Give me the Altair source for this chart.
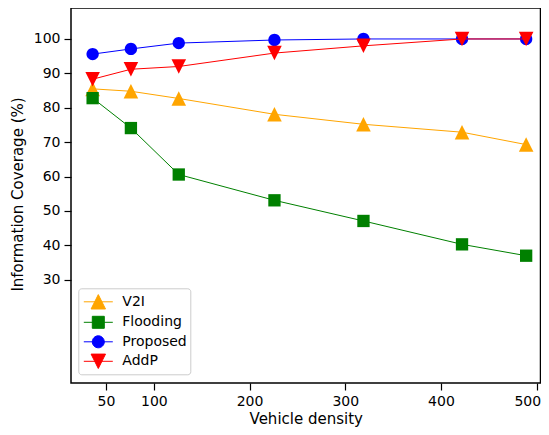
import altair as alt
import pandas as pd

# ---- data ----
density = [36, 76, 126, 226, 319, 422, 489]
v2i = [85.5, 84.8, 82.7, 78.1, 75.2, 72.9, 69.3]
flooding = [82.8, 74.1, 60.6, 53.1, 47.1, 40.3, 37.0]
proposed = [95.6, 97.1, 98.8, 99.7, 100.0, 100.0, 100.0]
addp = [88.3, 91.2, 92.0, 95.9, 98.0, 100.0, 100.0]

series_names = ["V2I", "Flooding", "Proposed", "AddP"]
series_values = [v2i, flooding, proposed, addp]
series_colors = ["#FFA500", "#008000", "#0000FF", "#FF0000"]
x_ticks = [50, 100, 200, 300, 400, 500]
y_ticks = [30, 40, 50, 60, 70, 80, 90, 100]

rows = []
for name, vals in zip(series_names, series_values):
    for xv, yv in zip(density, vals):
        rows.append({"density": xv, "coverage": yv, "series": name})
df = pd.DataFrame(rows)

FONT = "DejaVu Sans"


def circle(r, dx=0.0):
    return (f"M{dx - r},0A{r},{r} 0 1,0 {dx + r},0A{r},{r} 0 1,0 {dx - r},0Z")


def square(h, dx=0.0):
    return f"M{dx - h},{-h}L{dx + h},{-h}L{dx + h},{h}L{dx - h},{h}Z"


def tri_up(h, dx=0.0):
    return f"M{dx},{-h}L{dx + h},{h}L{dx - h},{h}Z"


def tri_down(h, dx=0.0):
    return f"M{dx},{h}L{dx + h},{-h}L{dx - h},{-h}Z"


# data markers: size 196 -> 1 path unit = 7 px
marker_paths = [tri_up(1.04), square(0.88), circle(0.88), tri_down(1.04)]

# legend symbols: size 400 -> 1 path unit = 10 px, line + marker
LDX = 0.65
line = f"M{-0.8},0L{2.1},0"
legend_paths = [
    line + tri_up(0.72, LDX),
    line + square(0.6, LDX),
    line + circle(0.6, LDX),
    line + tri_down(0.72, LDX),
]

xscale = alt.Scale(domain=[13.4, 504.0], nice=False, zero=False)
yscale = alt.Scale(domain=[0, 109], nice=False, zero=False)

xaxis = alt.Axis(values=x_ticks, title="Vehicle density", titleFontSize=15,
                 titleY=40, titleBaseline="alphabetic", labelPadding=4,
                 labelFlush=5, labelFlushOffset=4)
yaxis = alt.Axis(values=y_ticks, title="Information Coverage (%)", titleFontSize=15,
                 titleX=-54, titleY=186, titleAngle=270, titleAlign="center",
                 titleBaseline="middle", labelPadding=4)

base = alt.Chart(df)
layers = []
for name, color, path in zip(series_names, series_colors, marker_paths):
    sub = base.transform_filter(alt.datum.series == name)
    layers.append(
        sub.mark_line(color=color, strokeWidth=1).encode(
            x=alt.X("density:Q", scale=xscale, axis=xaxis),
            y=alt.Y("coverage:Q", scale=yscale, axis=yaxis),
        )
    )
    layers.append(
        sub.mark_point(shape=path, size=196, filled=True, color=color, opacity=1).encode(
            x=alt.X("density:Q", scale=xscale, axis=xaxis),
            y=alt.Y("coverage:Q", scale=yscale, axis=yaxis),
        )
    )

legend = alt.Legend(
    title=None, orient="none", legendX=7.3, legendY=280.3,
    symbolSize=400, symbolStrokeWidth=1, labelOffset=20, labelFontSize=14,
    labelFont=FONT, labelColor="black", padding=3, rowPadding=0.5,
    strokeColor="#cccccc", fillColor="rgba(255,255,255,0.8)", cornerRadius=3,
)
legend_layer = base.transform_filter("false").mark_point(filled=True, opacity=1).encode(
    x=alt.X("density:Q", scale=xscale, axis=xaxis),
    y=alt.Y("coverage:Q", scale=yscale, axis=yaxis),
    fill=alt.Fill("series:N", scale=alt.Scale(domain=series_names, range=series_colors), legend=legend),
    stroke=alt.Stroke("series:N", scale=alt.Scale(domain=series_names, range=series_colors), legend=legend),
    shape=alt.Shape("series:N", scale=alt.Scale(domain=series_names, range=legend_paths), legend=legend),
)

chart = alt.layer(*layers, legend_layer).properties(
    width=469.5, height=375,
    autosize=alt.AutoSizeParams(type="none"),
    padding={"left": 63, "top": 0, "right": 0, "bottom": 46},
).configure_view(
    stroke="black", strokeWidth=1.5
).configure_axis(
    labelFont=FONT, titleFont=FONT, labelFontSize=14, labelColor="black",
    titleColor="black", titleFontWeight="normal", tickColor="black",
    tickSize=7, tickWidth=1.2, domain=False, grid=False,
)

chart.save("out.html", embed_options={"renderer": "svg", "actions": False})
